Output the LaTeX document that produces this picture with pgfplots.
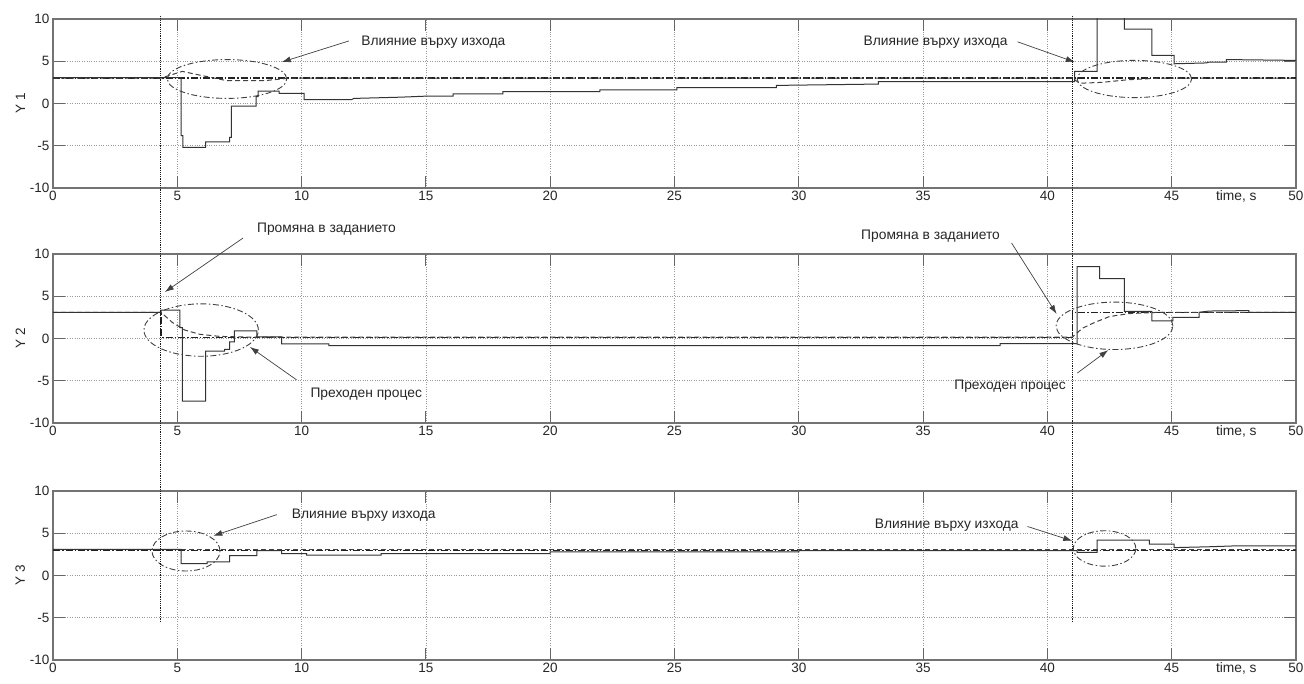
\documentclass[border=0pt]{standalone}
\usepackage{fontspec}
\setmainfont{Liberation Sans}
\usepackage{pgfplots}
\pgfplotsset{compat=1.18}
\usetikzlibrary{arrows.meta}

\definecolor{outc}{HTML}{333333}
\definecolor{spc}{HTML}{222222}
\definecolor{txt}{HTML}{262626}

\pgfplotsset{
  panel/.style={
    scale only axis, width=1243pt, height=169pt,
    xmin=0, xmax=50, ymin=-10, ymax=10,
    xtick={0,5,...,50}, ytick={-10,-5,0,5,10},
    grid=major, major grid style={dotted, black!40, line width=0.6pt},
    axis line style={black!55, line width=1.1pt},
    major tick length=12pt, tick style={black!60, line width=0.8pt},
    tick label style={font=\fontsize{13.5}{15}\selectfont, text=txt},
    label style={font=\fontsize{13.5}{15}\selectfont, text=txt},
    ylabel style={yshift=-2pt},
    /pgf/number format/assume math mode=true,
    clip mode=individual,
    anchor=north west,
  },
  setp/.style={spc, line width=1.3pt, dash pattern=on 7pt off 2pt on 1.5pt off 2pt},
  refr/.style={black!75, line width=1pt, dash pattern=on 5pt off 3pt},
  outp/.style={outc, line width=1pt},
}
\tikzset{
  ell/.style={black!75, line width=0.9pt, dash pattern=on 6pt off 2.5pt on 1.5pt off 2.5pt},
  arr/.style={-{Latex[length=9pt,width=6pt]}, black!75, line width=0.7pt},
  ann/.style={font=\fontsize{13.8}{16}\selectfont, text=txt, inner sep=1pt},
  vline/.style={black!90, line width=1.2pt, dash pattern=on 1.2pt off 1pt},
}

\begin{document}
\begin{tikzpicture}
% ---------------- Y1 ----------------
\begin{axis}[panel, at={(53pt,-19pt)}, ylabel={Y 1}]
\addplot[setp] coordinates {(0,3) (50,3)};
\addplot[refr] coordinates {(0,3) (4.34,3) (5.2,3.8) (6,3.3) (7,2.7) (8.5,2.7) (9.5,3) (41.0,3) (41.3,2.4) (42.2,2.5) (43.2,2.8) (44.5,3) (50,3)};
\addplot[outp] coordinates {
(0,3.05) (5.15,3.05) (5.15,-3.8) (5.22,-3.8) (5.22,-5.2) (6.14,-5.2) (6.14,-4.55)
(7.1,-4.55) (7.1,-4.0) (7.18,-4.0) (7.18,-0.3) (8.17,-0.3) (8.17,0.8) (8.25,0.8)
(8.25,1.45) (9.1,1.45) (9.1,1.2) (10.1,1.2) (10.1,0.45) (12,0.45) (12.1,0.6)
(14,0.75) (15,0.87) (16.1,0.87) (16.1,1.15) (18.1,1.15) (18.1,1.4) (22,1.4)
(22,1.6) (25.1,1.6) (25.1,1.87) (29.1,1.87) (29.1,2.14) (33.2,2.3) (33.2,2.6)
(41.1,2.6) (41.1,3.8) (42.0,3.8) (42.0,11) (43.1,11) (43.1,8.8) (44.2,8.8)
(44.2,5.7) (45.1,5.7) (45.1,4.7) (46.4,4.8) (46.5,4.9) (47.2,4.9) (47.2,5.2) (50,5.1)};
\draw[ell] (axis cs:7,2.9) ellipse [x radius=59.7pt, y radius=19.4pt];
\draw[ell] (axis cs:43.5,2.9) ellipse [x radius=57.2pt, y radius=18.6pt];
\node[ann] at (axis cs:15.3,7.3) {Влияние върху изхода};
\draw[arr] (axis cs:11.9,7.4) -- (axis cs:9.2,4.9);
\node[ann] at (axis cs:35.5,7.3) {Влияние върху изхода};
\draw[arr] (axis cs:38.8,7.3) -- (axis cs:41.1,4.9);
\node[ann, anchor=north] at (axis cs:47.6,-10) {\rule{0pt}{11pt}time, s};
\coordinate (t1) at (axis cs:4.34,10.4);
\coordinate (t2) at (axis cs:41.0,10.4);
\end{axis}
% ---------------- Y2 ----------------
\begin{axis}[panel, at={(53pt,-254pt)}, ylabel={Y 2}]
\addplot[setp] coordinates {(0,3.1) (4.34,3.1) (4.34,0.15) (41.0,0.15) (41.0,3.1) (50,3.1)};
\addplot[refr] coordinates {(0,3.1) (4.34,3.1) (4.8,1.9) (5.3,1.0) (5.9,0.5) (6.7,0.25) (8,0.15) (41.0,0.15) (41.4,1.2) (41.9,1.9) (42.5,2.6) (43.3,2.95) (44.5,3.1) (50,3.1)};
\addplot[outp] coordinates {
(0,3.1) (4.34,3.1) (4.34,3.35) (5.1,3.35) (5.1,1.3) (5.2,1.3) (5.2,-7.4) (6.14,-7.4)
(6.14,-1.5) (6.9,-1.5) (6.9,-1.3) (7.1,-1.3) (7.1,-0.4) (7.3,-0.4) (7.3,0.9) (8.2,0.9)
(8.2,0.2) (9.2,0.2) (9.2,-0.65) (11.1,-0.65) (11.1,-0.85) (38.1,-0.85) (38.1,-0.6)
(41.2,-0.6) (41.2,8.5) (42.1,8.5) (42.1,7.1) (43.1,7.1) (43.1,3.2) (44.2,3.2)
(44.2,2.1) (45.05,2.1) (45.05,2.5) (46.1,2.5) (46.1,3.1) (46.5,3.25) (48.1,3.3)
(48.1,3.1) (50,3.1)};
\draw[ell] (axis cs:5.96,1.0) ellipse [x radius=57.2pt, y radius=26.2pt];
\draw[ell] (axis cs:42.7,1.5) ellipse [x radius=58.4pt, y radius=23.7pt];
\node[ann] at (axis cs:11.0,12.9) {Промяна в заданието};
\draw[arr] (axis cs:7.65,11.9) -- (axis cs:4.5,5.5);
\node[ann] at (axis cs:35.3,12.1) {Промяна в заданието};
\draw[arr] (axis cs:38.56,11.3) -- (axis cs:40.37,2.9);
\node[ann] at (axis cs:12.6,-6.6) {Преходен процес};
\draw[arr] (axis cs:9.8,-4.9) -- (axis cs:7.92,-1.0);
\node[ann] at (axis cs:38.5,-5.6) {Преходен процес};
\draw[arr] (axis cs:41.2,-4.1) -- (axis cs:42.45,-1.37);
\node[ann, anchor=north] at (axis cs:47.6,-10) {\rule{0pt}{11pt}time, s};
\end{axis}
% ---------------- Y3 ----------------
\begin{axis}[panel, at={(53pt,-491pt)}, ylabel={Y 3}]
\addplot[setp] coordinates {(0,3) (50,3)};
\addplot[refr] coordinates {(0,3.05) (50,3.05)};
\addplot[outp] coordinates {
(0,3.1) (5.15,3.1) (5.15,1.4) (6.2,1.4) (6.2,1.6) (7.1,1.6) (7.1,2.35) (8.2,2.35)
(8.2,2.95) (9.2,2.95) (9.2,2.6) (10.2,2.6) (10.2,2.4) (13.2,2.4) (13.2,2.6) (20,2.6)
(20,2.8) (30,2.8) (30,2.95) (41.2,2.95) (41.2,2.75) (42.0,2.75) (42.0,4.2) (44.1,4.2)
(44.1,3.7) (45.1,3.7) (45.1,3.3) (46.5,3.4) (47.5,3.5) (50,3.5)};
\draw[ell] (axis cs:5.35,2.9) ellipse [x radius=34pt, y radius=20pt];
\draw[ell] (axis cs:42.3,3.2) ellipse [x radius=31.3pt, y radius=17.7pt];
\node[ann] at (axis cs:12.5,7.1) {Влияние върху изхода};
\draw[arr] (axis cs:9.0,7.2) -- (axis cs:6.45,4.7);
\node[ann] at (axis cs:35.95,5.9) {Влияние върху изхода};
\draw[arr] (axis cs:39.2,5.8) -- (axis cs:41.0,4.1);
\node[ann, anchor=north] at (axis cs:47.6,-10) {\rule{0pt}{11pt}time, s};
\coordinate (b1) at (axis cs:4.34,-5.6);
\coordinate (b2) at (axis cs:41.0,-5.6);
\end{axis}
\draw[vline] (t1) -- (b1);
\draw[vline] (t2) -- (b2);
\pgfresetboundingbox
\path[use as bounding box] (0,0) rectangle (1304pt,-684pt);
\end{tikzpicture}
\end{document}
